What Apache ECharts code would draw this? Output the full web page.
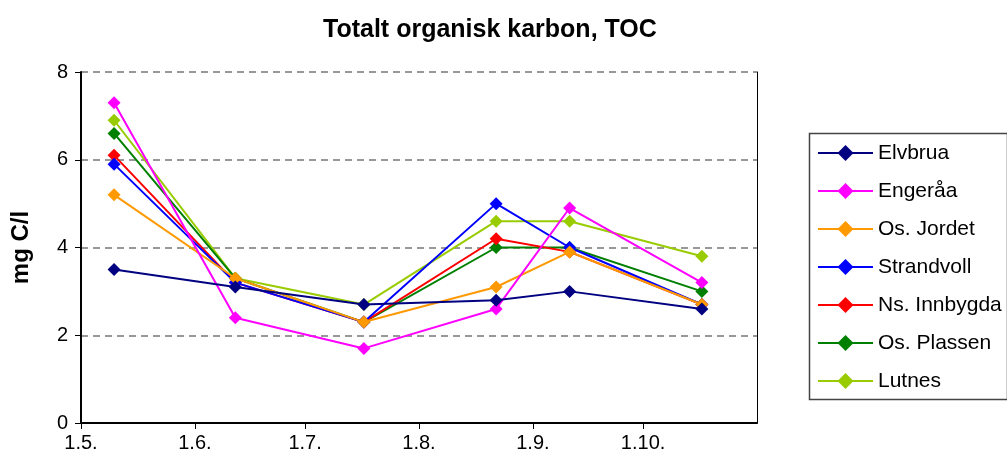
<!DOCTYPE html>
<html>
<head>
<meta charset="utf-8">
<script src="https://cdn.jsdelivr.net/npm/echarts@6/dist/echarts.min.js"></script>
<style>
html,body{margin:0;padding:0;background:#fff;}
#c{width:1007px;height:464px;}
</style>
</head>
<body>
<div id="c"></div>
<script>
const dates = ['2008-05-10','2008-06-12','2008-07-17','2008-08-22','2008-09-11','2008-10-17'];
const names = ['Elvbrua','Engeråa','Os. Jordet','Strandvoll','Ns. Innbygda','Os. Plassen','Lutnes'];
const elvbrua    = [3.5, 3.1, 2.7, 2.8, 3.0, 2.6];
const engeraa    = [7.3, 2.4, 1.7, 2.6, 4.9, 3.2];
const osJordet   = [5.2, 3.3, 2.3, 3.1, 3.9, 2.7];
const strandvoll = [5.9, 3.2, 2.3, 5.0, 4.0, 2.7];
const nsInnbygda = [6.1, 3.2, 2.3, 4.2, 3.9, 2.7];
const osPlassen  = [6.6, 3.3, 2.3, 4.0, 4.0, 3.0];
const lutnes     = [6.9, 3.3, 2.7, 4.6, 4.6, 3.8];
const colors = ['#000080','#FF00FF','#FF9900','#0000FF','#FF0000','#008000','#99CC00'];
const seriesValues = [elvbrua, engeraa, osJordet, strandvoll, nsInnbygda, osPlassen, lutnes];
const yTicks = [0, 2, 4, 6, 8];

const FONT = 'Liberation Sans, Arial, sans-serif';
const chart = echarts.init(document.getElementById('c'));
const series = names.map((n, i) => ({
  name: n,
  type: 'line',
  data: dates.map((d, j) => [d, seriesValues[i][j]]),
  symbol: 'diamond',
  symbolSize: 13,
  showAllSymbol: true,
  lineStyle: {color: colors[i], width: 2},
  itemStyle: {color: colors[i]},
  z: 10 + (names.length - i),
  animation: false
}));
series.push({
  type: 'line', yAxisIndex: 1, data: [], silent: true
});
chart.setOption({
  animation: false,
  backgroundColor: '#ffffff',
  title: {
    text: 'Totalt organisk karbon, TOC',
    left: 318, top: 13,
    textStyle: {fontFamily: FONT, fontSize: 25, fontWeight: 'bold', color: '#000'}
  },
  grid: {left: 81, right: 250, top: 72, bottom: 41, containLabel: false},
  legend: {
    orient: 'vertical',
    left: 817, top: 141,
    itemWidth: 55, itemHeight: 20, itemGap: 14,
    data: names,
    textStyle: {fontFamily: FONT, fontSize: 21, color: '#000', lineHeight: 24, padding: [0,0,0,0]},
    padding: 0
  },
  graphic: [{
    type: 'rect',
    shape: {x: 809.5, y: 133.5, width: 198, height: 266},
    style: {fill: 'none', stroke: '#444', lineWidth: 1.5},
    silent: true
  }],
  xAxis: {
    type: 'time',
    min: '2008-05-01',
    max: '2008-11-01',
    minInterval: 28 * 24 * 3600 * 1000,
    maxInterval: 31 * 24 * 3600 * 1000,
    axisLine: {lineStyle: {color: '#000', width: 2}},
    axisTick: {show: true, length: 6, lineStyle: {color: '#000', width: 1}},
    splitLine: {show: false},
    axisLabel: {
      fontFamily: FONT, fontSize: 20, color: '#000', margin: 10,
      showMaxLabel: false,
      formatter: function (v) {
        const d = new Date(v);
        if (d.getMonth() === 10) return '';
        return d.getDate() + '.' + (d.getMonth() + 1) + '.';
      }
    }
  },
  yAxis: [{
    type: 'value',
    min: 0, max: 8, interval: 2,
    name: 'mg C/l',
    nameLocation: 'middle',
    nameGap: 48,
    nameTextStyle: {fontFamily: FONT, fontSize: 24, fontWeight: 'bold', color: '#000'},
    axisLine: {show: true, lineStyle: {color: '#000', width: 2}},
    axisTick: {show: true, length: 6, lineStyle: {color: '#000'}},
    axisLabel: {fontFamily: FONT, fontSize: 20, color: '#000', margin: 13,
      formatter: function (v) { return yTicks.indexOf(v) >= 0 ? String(v) : ''; }},
    splitLine: {show: true, lineStyle: {color: '#777', type: [7, 5], width: 1.5}}
  }, {
    type: 'value',
    min: 0, max: 8, interval: 2,
    position: 'right',
    axisLine: {show: true, lineStyle: {color: '#000', width: 1}},
    axisTick: {show: false},
    axisLabel: {show: false},
    splitLine: {show: false}
  }],
  series: series
});
</script>
</body>
</html>
